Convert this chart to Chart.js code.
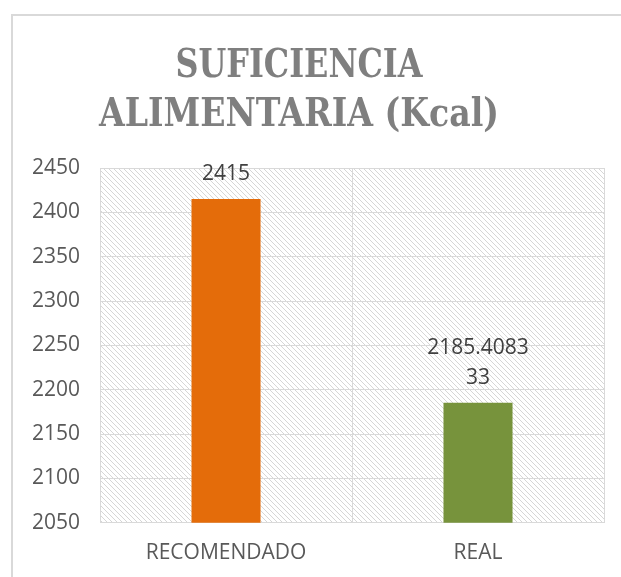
<!DOCTYPE html>
<html>
<head>
<meta charset="utf-8">
<script src="https://cdn.jsdelivr.net/npm/chart.js@4"></script>
<style>
  html, body { margin: 0; padding: 0; background: #fff; overflow: hidden; }
  #wrap { position: relative; width: 621px; height: 577px; }
</style>
</head>
<body>
<div id="wrap"><canvas id="myChart"></canvas></div>
<script>
const labels = ['RECOMENDADO', 'REAL'];
const values = [2415, 2185.408333];
const barColors = ['#e46c0a', '#77933c'];
const titleLines = ['SUFICIENCIA', 'ALIMENTARIA (Kcal)'];
const yMin = 2050;
const yMax = 2450;
const yStep = 50;

// diagonal hatch used as plot background
function makeHatch() {
  const n = 5;
  const c = document.createElement('canvas');
  c.width = n; c.height = n;
  const g = c.getContext('2d');
  g.fillStyle = '#ffffff';
  g.fillRect(0, 0, n, n);
  g.fillStyle = '#d6d6d6';
  for (let x = 0; x < n; x++) {
    g.fillRect(x, x, 1, 1);
  }
  return g.createPattern(c, 'repeat');
}

const frame = {
  id: 'frame',
  beforeDraw(chart) {
    const ctx = chart.ctx;
    const a = chart.chartArea;
    ctx.save();
    // outer chart border
    ctx.strokeStyle = '#d9d9d9';
    ctx.lineWidth = 2;
    ctx.beginPath();
    ctx.moveTo(12, 700);
    ctx.lineTo(12, 15);
    ctx.lineTo(700, 15);
    ctx.stroke();
    // hatch background
    ctx.fillStyle = makeHatch();
    ctx.fillRect(a.left, a.top, a.right - a.left, a.bottom - a.top);
    // title
    ctx.fillStyle = '#7f7f7f';
    ctx.font = 'bold 39px "DejaVu Serif Condensed", "DejaVu Serif"';
    ctx.textAlign = 'center';
    ctx.textBaseline = 'alphabetic';
    ctx.fillText(titleLines[0], 299, 77, 247);
    ctx.fillText(titleLines[1], 299, 126, 400);
    ctx.restore();
  },
  afterDatasetsDraw(chart) {
    const ctx = chart.ctx;
    const meta = chart.getDatasetMeta(0);
    ctx.save();
    ctx.fillStyle = '#404040';
    ctx.font = '21px "Open Sans"';
    ctx.textAlign = 'center';
    ctx.textBaseline = 'middle';
    meta.data.forEach((bar, i) => {
      const s = String(values[i]);
      const lines = [];
      for (let k = 0; k < s.length; k += 9) lines.push(s.slice(k, k + 9));
      lines.reverse().forEach((t, j) => {
        ctx.fillText(t, bar.x, bar.y - 25 - j * 30);
      });
    });
    ctx.restore();
  }
};

const ctx = document.getElementById('myChart');
const myChart = new Chart(ctx, {
  type: 'bar',
  data: {
    labels: labels,
    datasets: [{
      data: values,
      backgroundColor: barColors,
      categoryPercentage: 1,
      barPercentage: 0.274
    }]
  },
  options: {
    responsive: true,
    maintainAspectRatio: false,
    animation: false,
    layout: {
      padding: { top: 168, left: 12, right: 17, bottom: -7 }
    },
    plugins: {
      legend: { display: false },
      title: { display: false },
      tooltip: { enabled: false }
    },
    scales: {
      x: {
        grid: {
          color: '#d9d9d9',
          drawTicks: false,
          offset: true
        },
        border: { color: '#d9d9d9' },
        ticks: {
          color: '#595959',
          padding: 18,
          font: { family: 'Open Sans', size: 21 }
        }
      },
      y: {
        min: yMin,
        max: yMax,
        grid: {
          color: '#d9d9d9',
          drawTicks: false
        },
        border: { color: '#d9d9d9' },
        ticks: {
          stepSize: yStep,
          color: '#595959',
          padding: 20,
          font: { family: 'Open Sans', size: 21 },
          callback: (v) => String(v)
        }
      }
    }
  },
  plugins: [frame]
});
</script>
</body>
</html>
